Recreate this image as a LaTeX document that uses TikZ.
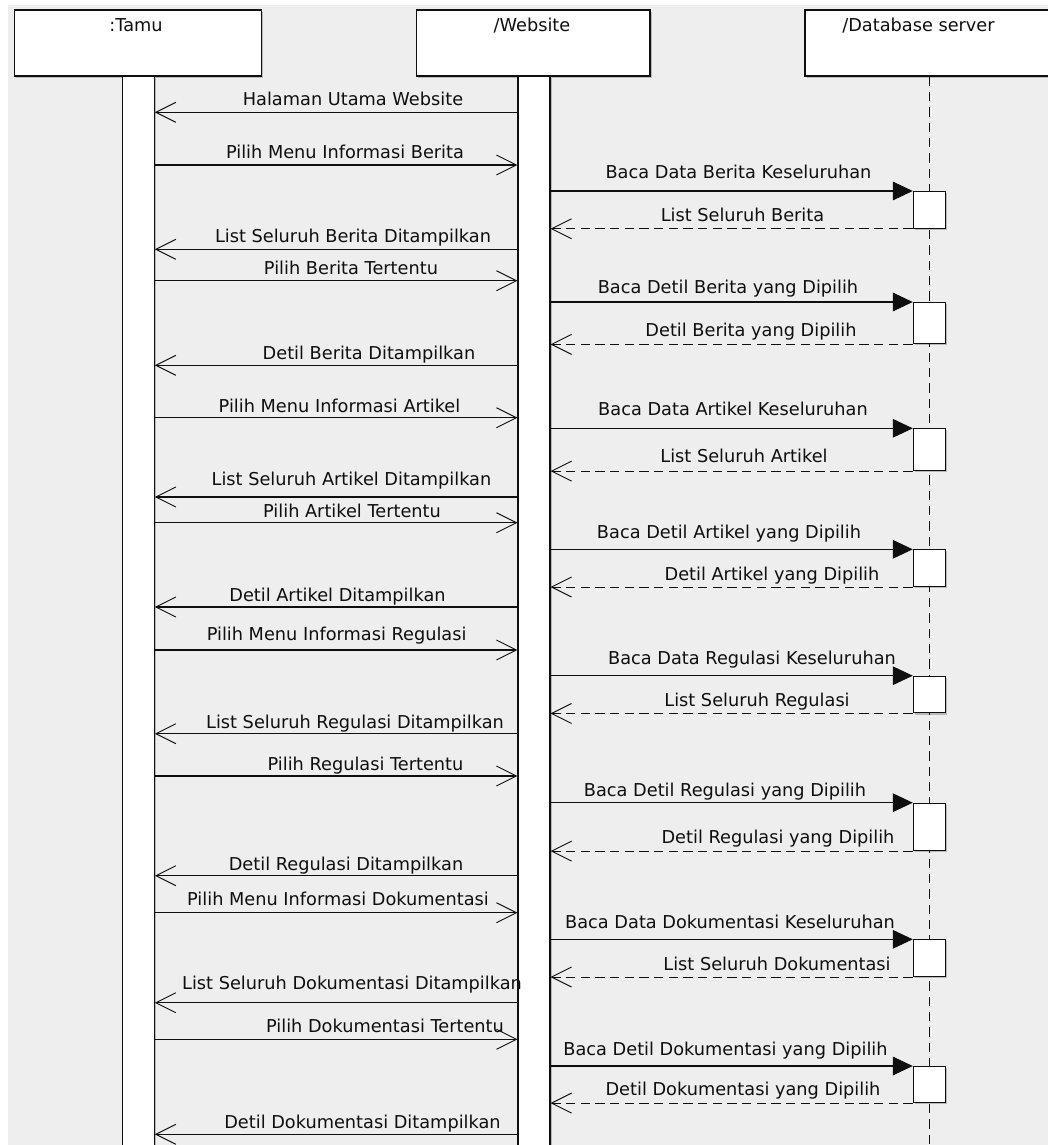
\documentclass[tikz,border=0pt]{standalone}
\usepackage{fontspec}
\setmainfont{DejaVu Sans}
\usetikzlibrary{arrows.meta,shadows}
\definecolor{bggray}{RGB}{238,238,238}
\definecolor{ink}{RGB}{15,15,15}
\begin{document}
\begin{tikzpicture}[x=0.75pt,y=-0.75pt,
  lbl/.style={font=\fontsize{13.3pt}{16pt}\selectfont, text=ink, inner sep=0pt, anchor=base},
  box/.style={draw=ink, fill=white, line width=0.8pt, inner sep=0pt,
              drop shadow={shadow xshift=1.2pt, shadow yshift=-1.2pt, opacity=0.22, fill=black}},
  sync/.style={draw=ink, line width=0.8pt, -{Straight Barb[length=15pt,width=15pt,line width=0.7pt]}},
  reply/.style={draw=ink, line width=0.8pt, dash pattern=on 7pt off 4pt,
                -{Straight Barb[length=15pt,width=15pt,line width=0.7pt]}},
  call/.style={draw=ink, line width=0.8pt, -{Triangle[length=15pt,width=14pt]}},
  lifeline/.style={draw=ink, line width=1.4pt, dash pattern=on 7pt off 4.5pt}
]
\clip (0,0) rectangle (1048,1145);
\fill[white] (0,0) rectangle (1048,1145);
\fill[bggray] (8,5) rectangle (1048,1145);

% participants
\node[box, minimum width=185.25pt, minimum height=49.5pt] (tamu) at (138,43) {};
\node[lbl] (tamut) at (136,31.5) {:Tamu};
\node[box, minimum width=175pt, minimum height=49.5pt] (web) at (533.3,43) {};
\node[lbl] (webt) at (532,31.5) {/Website};
\node[box, minimum width=195pt, minimum height=49.5pt] (db) at (935,43) {};
\node[lbl] (dbt) at (918.5,31.5) {/Database server};

% lifelines / activation bars
\coordinate (dbend) at (929.5,1150);
\draw[lifeline] (db.south -| dbend) -- (dbend);
\node[box, minimum width=23.7pt, minimum height=830pt, anchor=north] (tamubar) at (138.5,76) {};
\node[box, minimum width=24pt, minimum height=830pt, anchor=north] (webbar) at (534,76) {};

\node[box, minimum width=24.3pt, minimum height=27.5pt, anchor=north] (db1) at (929.5,191) {};
\node[box, minimum width=24.3pt, minimum height=31pt, anchor=north] (db2) at (929.5,302) {};
\node[box, minimum width=24.3pt, minimum height=31.3pt, anchor=north] (db3) at (929.5,428.3) {};
\node[box, minimum width=24.3pt, minimum height=27.5pt, anchor=north] (db4) at (929.5,549.3) {};
\node[box, minimum width=24.3pt, minimum height=27.5pt, anchor=north] (db5) at (929.5,675.7) {};
\node[box, minimum width=24.3pt, minimum height=35.5pt, anchor=north] (db6) at (929.5,802.7) {};
\node[box, minimum width=24.3pt, minimum height=27.5pt, anchor=north] (db7) at (929.5,939.3) {};
\node[box, minimum width=24.3pt, minimum height=27pt, anchor=north] (db8) at (929.5,1066) {};

% Berita
\draw[sync] (webbar.west |- 0,112.3) -- (tamubar.east |- 0,112.3);
\node[lbl] (m1) at (353,105.8) {Halaman Utama Website};
\draw[sync] (tamubar.east |- 0,165) -- (webbar.west |- 0,165);
\node[lbl] (m2) at (345,158.2) {Pilih Menu Informasi Berita};
\draw[call] (webbar.east |- db1.north west) -- (db1.north west);
\node[lbl] (m3) at (738.5,178.2) {Baca Data Berita Keseluruhan};
\draw[reply] (db1.south west) -- (webbar.east |- db1.south west);
\node[lbl] (m4) at (742.5,221.5) {List Seluruh Berita};
\draw[sync] (webbar.west |- 0,249.3) -- (tamubar.east |- 0,249.3);
\node[lbl] (m5) at (353,242.5) {List Seluruh Berita Ditampilkan};
\draw[sync] (tamubar.east |- 0,280.7) -- (webbar.west |- 0,280.7);
\node[lbl] (m6) at (351,274.8) {Pilih Berita Tertentu};
\draw[call] (webbar.east |- db2.north west) -- (db2.north west);
\node[lbl] (m7) at (728,293.2) {Baca Detil Berita yang Dipilih};
\draw[reply] (db2.south west) -- (webbar.east |- db2.south west);
\node[lbl] (m8) at (751,336.5) {Detil Berita yang Dipilih};
\draw[sync] (webbar.west |- 0,365.3) -- (tamubar.east |- 0,365.3);
\node[lbl] (m9) at (369,359.2) {Detil Berita Ditampilkan};

% Artikel
\draw[sync] (tamubar.east |- 0,417.7) -- (webbar.west |- 0,417.7);
\node[lbl] (m10) at (339.5,412.2) {Pilih Menu Informasi Artikel};
\draw[call] (webbar.east |- db3.north west) -- (db3.north west);
\node[lbl] (m11) at (733,415.5) {Baca Data Artikel Keseluruhan};
\draw[reply] (db3.south west) -- (webbar.east |- db3.south west);
\node[lbl] (m12) at (744,462.5) {List Seluruh Artikel};
\draw[sync] (webbar.west |- 0,497) -- (tamubar.east |- 0,497);
\node[lbl] (m13) at (351.5,485.8) {List Seluruh Artikel Ditampilkan};
\draw[sync] (tamubar.east |- 0,522.7) -- (webbar.west |- 0,522.7);
\node[lbl] (m14) at (352,517.2) {Pilih Artikel Tertentu};
\draw[call] (webbar.east |- db4.north west) -- (db4.north west);
\node[lbl] (m15) at (729,538.2) {Baca Detil Artikel yang Dipilih};
\draw[reply] (db4.south west) -- (webbar.east |- db4.south west);
\node[lbl] (m16) at (772,580.5) {Detil Artikel yang Dipilih};
\draw[sync] (webbar.west |- 0,607) -- (tamubar.east |- 0,607);
\node[lbl] (m17) at (337.5,601.5) {Detil Artikel Ditampilkan};

% Regulasi
\draw[sync] (tamubar.east |- 0,650) -- (webbar.west |- 0,650);
\node[lbl] (m18) at (336.6,640.5) {Pilih Menu Informasi Regulasi};
\draw[call] (webbar.east |- db5.north west) -- (db5.north west);
\node[lbl] (m19) at (752,664.5) {Baca Data Regulasi Keseluruhan};
\draw[reply] (db5.south west) -- (webbar.east |- db5.south west);
\node[lbl] (m20) at (757,706.5) {List Seluruh Regulasi};
\draw[sync] (webbar.west |- 0,733.7) -- (tamubar.east |- 0,733.7);
\node[lbl] (m21) at (355,728.2) {List Seluruh Regulasi Ditampilkan};
\draw[sync] (tamubar.east |- 0,776) -- (webbar.west |- 0,776);
\node[lbl] (m22) at (365.5,770.5) {Pilih Regulasi Tertentu};
\draw[call] (webbar.east |- db6.north west) -- (db6.north west);
\node[lbl] (m23) at (725,796.5) {Baca Detil Regulasi yang Dipilih};
\draw[reply] (db6.south west) -- (webbar.east |- db6.south west);
\node[lbl] (m24) at (778,843.5) {Detil Regulasi yang Dipilih};
\draw[sync] (webbar.west |- 0,875.7) -- (tamubar.east |- 0,875.7);
\node[lbl] (m25) at (346,870.2) {Detil Regulasi Ditampilkan};

% Dokumentasi
\draw[sync] (tamubar.east |- 0,912.7) -- (webbar.west |- 0,912.7);
\node[lbl] (m26) at (338,905.5) {Pilih Menu Informasi Dokumentasi};
\draw[call] (webbar.east |- db7.north west) -- (db7.north west);
\node[lbl] (m27) at (730,928.2) {Baca Data Dokumentasi Keseluruhan};
\draw[reply] (db7.south west) -- (webbar.east |- db7.south west);
\node[lbl] (m28) at (777,970.5) {List Seluruh Dokumentasi};
\draw[sync] (webbar.west |- 0,1002.7) -- (tamubar.east |- 0,1002.7);
\node[lbl] (m29) at (352,989.2) {List Seluruh Dokumentasi Ditampilkan};
\draw[sync] (tamubar.east |- 0,1039.3) -- (webbar.west |- 0,1039.3);
\node[lbl] (m30) at (385,1032.2) {Pilih Dokumentasi Tertentu};
\draw[call] (webbar.east |- db8.north west) -- (db8.north west);
\node[lbl] (m31) at (725.5,1055.8) {Baca Detil Dokumentasi yang Dipilih};
\draw[reply] (db8.south west) -- (webbar.east |- db8.south west);
\node[lbl] (m32) at (743,1095.8) {Detil Dokumentasi yang Dipilih};
\draw[sync] (webbar.west |- 0,1134.3) -- (tamubar.east |- 0,1134.3);
\node[lbl] (m33) at (362.5,1128.2) {Detil Dokumentasi Ditampilkan};
\end{tikzpicture}
\end{document}
